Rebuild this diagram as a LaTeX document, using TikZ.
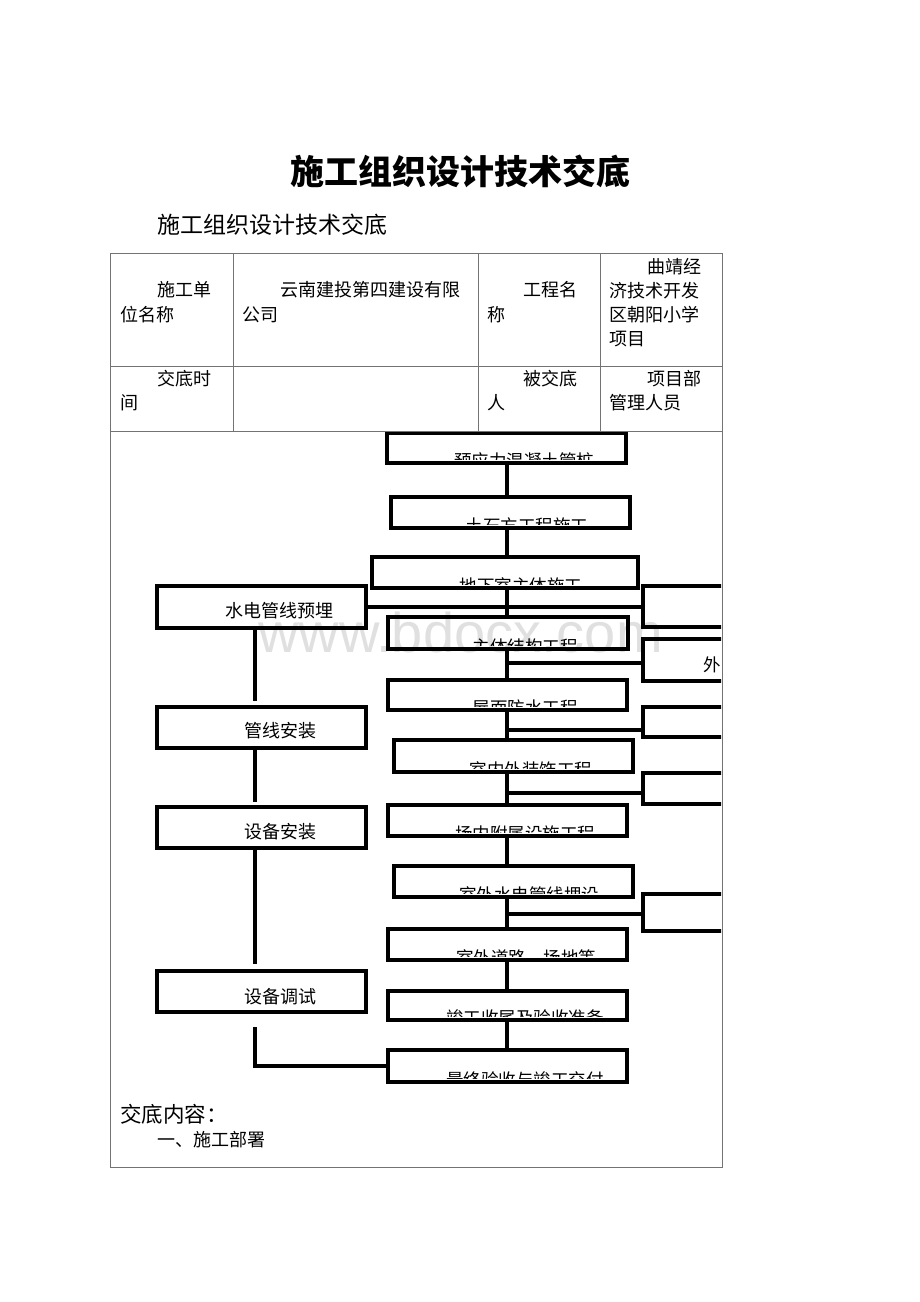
\documentclass[tikz,border=0pt]{standalone}
\usepackage{fontspec}
\newfontfamily\cjk{Noto Sans CJK SC}
\newfontfamily\wmfont{Liberation Sans}
\tikzset{
  fbox/.style={draw, line width=3.5pt, inner sep=0pt, outer sep=0pt},
  link/.style={line width=3.5pt},
  tline/.style={draw=black!55, line width=1pt},
  cell/.style={anchor=west, inner sep=0pt, font=\cjk\fontsize{18pt}{18pt}\selectfont},
  ftext/.style={inner sep=0pt, font=\cjk\fontsize{17.5pt}{17.5pt}\selectfont},
  ltext/.style={inner sep=0pt, font=\cjk\fontsize{18pt}{18pt}\selectfont},
}
\begin{document}
\begin{tikzpicture}[x=1pt, y=-1pt]
  \useasboundingbox (0,0) rectangle (920,1302);
  \node[anchor=base west, inner sep=0pt, text=black!12, font=\wmfont\fontsize{56pt}{56pt}\selectfont] (wm) at (258,652) {www.bdocx.com};

  \node[inner sep=0pt, font=\cjk\bfseries\fontsize{34pt}{34pt}\selectfont] (title) at (460,171) {施工组织设计技术交底};
  \node[anchor=west, inner sep=0pt, font=\cjk\fontsize{23pt}{23pt}\selectfont] (sub) at (157,225) {施工组织设计技术交底};

  \node[cell] (unit1) at (157,290) {施工单};
  \node[cell] (unit2) at (120,315) {位名称};
  \node[cell] (comp1) at (280,290) {云南建投第四建设有限};
  \node[cell] (comp2) at (242,315) {公司};
  \node[cell] (proj1) at (523,290) {工程名};
  \node[cell] (proj2) at (487,315) {称};
  \node[cell] (name1) at (647,267) {曲靖经};
  \node[cell] (name2) at (609,291) {济技术开发};
  \node[cell] (name3) at (609,315) {区朝阳小学};
  \node[cell] (name4) at (609,339) {项目};
  \node[cell] (time1) at (157,379) {交底时};
  \node[cell] (time2) at (120,403) {间};
  \node[cell] (recv1) at (523,379) {被交底};
  \node[cell] (recv2) at (487,403) {人};
  \node[cell] (staff1) at (647,379) {项目部};
  \node[cell] (staff2) at (609,403) {管理人员};

  \foreach \i/\cx/\cy/\w/\h/\tx/\txt in {
    1/506.5/448/239/30/524/预应力混凝土管桩,
    2/510.5/512.5/239/31/527/土石方工程施工,
    3/505/572.5/266/31/521/地下室主体施工,
    4/508/633/240/32/525/主体结构工程,
    5/507.5/695/239/30/525/屋面防水工程,
    6/513.5/756/239/32/531/室内外装饰工程,
    7/507.5/820.5/239/31/525/场内附属设施工程,
    8/513.5/881.5/239/31/529/室外水电管线埋设,
    9/507.5/944.5/239/31/526/室外道路、场地等,
    10/507.5/1005.5/239/29/525/竣工收尾及验收准备,
    11/507.5/1066/239/32/525/最终验收与竣工交付}{
    \node[fbox, minimum width=\w, minimum height=\h] (b\i) at (\cx,\cy) {};
    \begin{scope}
      \clip (b\i.north west) rectangle ([yshift=4pt]b\i.south east);
      \node[ftext] (t\i) at (\tx,{\cy+\h/2-2}) {\txt};
    \end{scope}
  }

  \node[fbox, minimum width=209, minimum height=42] (l1) at (261.5,607) {};
  \node[fbox, minimum width=209, minimum height=41] (l2) at (261.5,727.5) {};
  \node[fbox, minimum width=209, minimum height=41] (l3) at (261.5,827.5) {};
  \node[fbox, minimum width=209, minimum height=41] (l4) at (261.5,991.5) {};
  \node[ltext] (lt1) at (279,611) {水电管线预埋};
  \node[ltext] (lt2) at (280,731) {管线安装};
  \node[ltext] (lt3) at (280,832) {设备安装};
  \node[ltext] (lt4) at (280,997) {设备调试};

  \begin{scope}
    \clip (0,0) rectangle (721,1302);
    \node[fbox, anchor=west, minimum width=120, minimum height=41] (r1) at (643,606.5) {};
    \node[fbox, anchor=west, minimum width=120, minimum height=42] (r2) at (643,660) {};
    \node[fbox, anchor=west, minimum width=120, minimum height=30] (r3) at (643,722) {};
    \node[fbox, anchor=west, minimum width=120, minimum height=31] (r4) at (643,788.5) {};
    \node[fbox, anchor=west, minimum width=120, minimum height=37] (r5) at (643,912.5) {};
    \node[ftext] (rt2) at (712.5,665) {外};
  \end{scope}

  \coordinate (trk) at (507,0);
  \coordinate (lk) at (255,0);
  \foreach \a/\b in {1/2,2/3,3/4,4/5,5/6,6/7,7/8,8/9,9/10,10/11}
    \draw[link] (b\a.south -| trk) -- (b\b.north -| trk);
  \draw[link] (l1.east) -- (l1.east -| r1.west);
  \coordinate (j2) at (507,663);
  \coordinate (j3) at (507,730);
  \coordinate (j4) at (507,793);
  \coordinate (j5) at (507,914);
  \draw[link] (j2) -- (j2 -| r2.west);
  \draw[link] (j3) -- (j3 -| r3.west);
  \draw[link] (j4) -- (j4 -| r4.west);
  \draw[link] (j5) -- (j5 -| r5.west);
  \draw[link, shorten >=6pt] (l1.south -| lk) -- (l2.north -| lk);
  \draw[link, shorten >=5pt] (l2.south -| lk) -- (l3.north -| lk);
  \draw[link, shorten >=7pt] (l3.south -| lk) -- (l4.north -| lk);
  \draw[link, shorten <=15pt] (l4.south -| lk) |- (b11.west);

  \node[anchor=west, inner sep=0pt, font=\cjk\fontsize{21.5pt}{21.5pt}\selectfont] (content) at (120,1114) {交底内容：};
  \node[anchor=west, inner sep=0pt, font=\cjk\fontsize{18pt}{18pt}\selectfont] (part1) at (157,1140) {一、施工部署};

  \draw[tline] (110,253) rectangle (722,1167);
  \draw[tline] (110,366) -- (722,366);
  \draw[tline] (110,431) -- (722,431);
  \draw[tline] (233,253) -- (233,431);
  \draw[tline] (478,253) -- (478,431);
  \draw[tline] (600,253) -- (600,431);
\end{tikzpicture}
\end{document}
